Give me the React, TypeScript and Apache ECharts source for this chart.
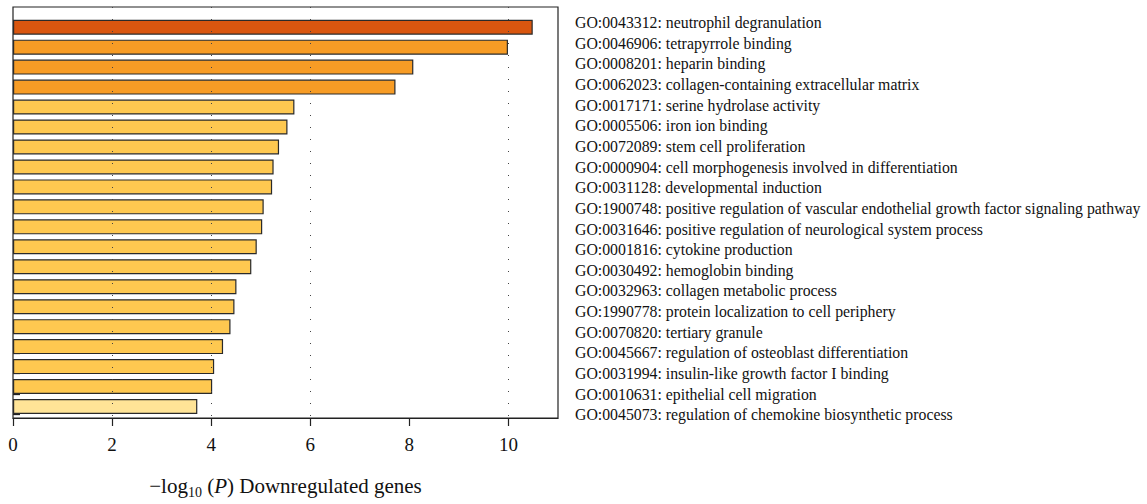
import React, { useEffect, useRef } from "react";
import * as echarts from "echarts";

const CATEGORIES = [
  "GO:0043312: neutrophil degranulation",
  "GO:0046906: tetrapyrrole binding",
  "GO:0008201: heparin binding",
  "GO:0062023: collagen-containing extracellular matrix",
  "GO:0017171: serine hydrolase activity",
  "GO:0005506: iron ion binding",
  "GO:0072089: stem cell proliferation",
  "GO:0000904: cell morphogenesis involved in differentiation",
  "GO:0031128: developmental induction",
  "GO:1900748: positive regulation of vascular endothelial growth factor signaling pathway",
  "GO:0031646: positive regulation of neurological system process",
  "GO:0001816: cytokine production",
  "GO:0030492: hemoglobin binding",
  "GO:0032963: collagen metabolic process",
  "GO:1990778: protein localization to cell periphery",
  "GO:0070820: tertiary granule",
  "GO:0045667: regulation of osteoblast differentiation",
  "GO:0031994: insulin-like growth factor I binding",
  "GO:0010631: epithelial cell migration",
  "GO:0045073: regulation of chemokine biosynthetic process",
];

const VALUES = [
  10.49, 9.99, 8.08, 7.72, 5.68, 5.54, 5.37, 5.26, 5.23, 5.06, 5.03, 4.92,
  4.81, 4.51, 4.47, 4.39, 4.24, 4.06, 4.02, 3.72,
];

const X_TICKS = [0, 2, 4, 6, 8, 10];
const GRID_LINES = [2, 4, 6, 10];

const X_MIN = 0;
const X_MAX = 11;

function colorFor(v: number): string {
  if (v >= 10.2) return "#D9560F";
  if (v >= 7) return "#F79C25";
  if (v >= 4) return "#FEC850";
  return "#FFE497";
}

const FONT = "Liberation Serif";
const INK = "#111";

export default function App() {
  const ref = useRef<HTMLDivElement>(null);

  useEffect(() => {
    if (!ref.current) return;
    const chart = echarts.init(ref.current, undefined, { renderer: "svg" });
    const gridLeft = 13;
    const gridWidth = 545;
    chart.setOption({
      animation: false,
      backgroundColor: "#ffffff",
      grid: [
        { left: gridLeft, width: gridWidth, top: 17.2, height: 399.3 },
        {
          left: gridLeft,
          width: gridWidth,
          top: 7,
          height: 417,
          show: true,
          borderColor: "#222",
          borderWidth: 1.2,
          backgroundColor: "transparent",
        },
        { left: gridLeft, width: gridWidth, top: 12.4, height: 412.6 },
      ],
      xAxis: [
        { gridIndex: 0, type: "value", min: X_MIN, max: X_MAX, show: false },
        {
          gridIndex: 1,
          type: "value",
          min: X_MIN,
          max: X_MAX,
          interval: 2,
          axisLine: { show: true, lineStyle: { color: "#222", width: 1.2 } },
          axisTick: {
            show: true,
            length: 8,
            inside: false,
            customValues: X_TICKS,
            lineStyle: { color: "#222", width: 1.2 },
          },
          axisLabel: {
            customValues: X_TICKS,
            margin: 17,
            fontFamily: FONT,
            fontSize: 19,
            color: INK,
          },
          splitLine: { show: false },
          name: "{t|−log}{sub|10}{t| (}{it|P}{t|) Downregulated genes}",
          nameLocation: "middle",
          nameGap: 55,
          nameTextStyle: {
            fontFamily: FONT,
            fontSize: 21,
            color: INK,
            rich: {
              t: { fontFamily: FONT, fontSize: 21, color: INK, lineHeight: 26 },
              it: {
                fontFamily: FONT,
                fontSize: 21,
                fontStyle: "italic",
                color: INK,
                lineHeight: 26,
              },
              sub: {
                fontFamily: FONT,
                fontSize: 14,
                color: INK,
                lineHeight: 14,
                verticalAlign: "bottom",
              },
            },
          },
        },
        { gridIndex: 2, type: "value", min: X_MIN, max: X_MAX, show: false },
      ],
      yAxis: [
        {
          gridIndex: 0,
          type: "category",
          data: CATEGORIES,
          inverse: true,
          show: false,
        },
        {
          gridIndex: 1,
          type: "category",
          data: CATEGORIES,
          inverse: true,
          show: false,
        },
        {
          gridIndex: 2,
          type: "category",
          data: CATEGORIES,
          inverse: true,
          position: "right",
          axisLine: { show: false },
          axisTick: {
            show: true,
            alignWithLabel: true,
            interval: 0,
            length: 7,
            inside: false,
            lineStyle: { color: "#222", width: 1.3 },
          },
          axisLabel: {
            interval: 0,
            margin: 17,
            fontFamily: FONT,
            fontSize: 15.8,
            color: INK,
          },
          splitLine: { show: false },
        },
      ],
      series: [
        {
          type: "scatter",
          xAxisIndex: 1,
          yAxisIndex: 1,
          data: [],
          z: 1,
          silent: true,
          markLine: {
            silent: true,
            symbol: ["none", "none"],
            label: { show: false },
            lineStyle: { color: "#444", width: 1, type: [1, 11] },
            data: GRID_LINES.map((v) => ({ xAxis: v })),
          },
        },
        {
          type: "bar",
          xAxisIndex: 0,
          yAxisIndex: 0,
          z: 3,
          barWidth: 15,
          data: VALUES.map((v) => ({
            value: v,
            itemStyle: {
              color: colorFor(v),
              borderColor: "#2a2a2a",
              borderWidth: 1.2,
            },
          })),
        },
      ],
    });
    return () => chart.dispose();
  }, []);

  return (
    <div
      ref={ref}
      style={{ position: "fixed", left: 0, top: 0, width: 1147, height: 504 }}
    />
  );
}
